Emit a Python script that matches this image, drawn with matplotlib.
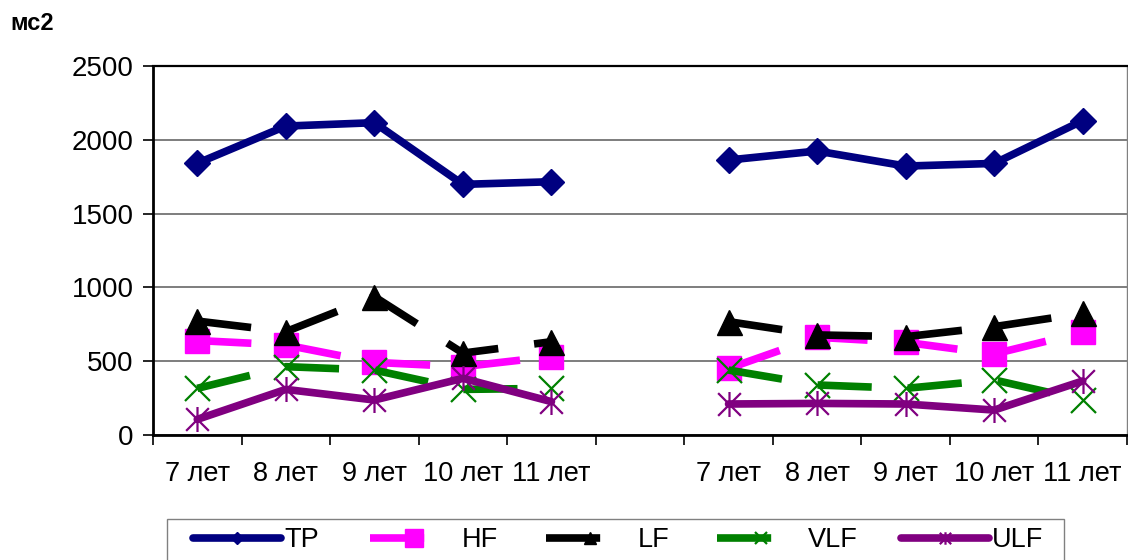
import numpy as np
import matplotlib
matplotlib.use("Agg")
import matplotlib.pyplot as plt
from matplotlib.path import Path
from matplotlib.lines import Line2D
from matplotlib.patches import Rectangle

plt.rcParams['font.family'] = ['Liberation Sans', 'DejaVu Sans']
plt.rcParams['lines.scale_dashes'] = False

# Age groups (two cohorts, separated by an empty slot)
categories = ["7 лет", "8 лет", "9 лет", "10 лет", "11 лет", "",
              "7 лет", "8 лет", "9 лет", "10 лет", "11 лет"]

nan = np.nan
tp  = [1841, 2093, 2116, 1698, 1716, nan, 1863, 1924, 1822, 1840, 2130]
hf  = [640, 610, 492, 463, 531, nan, 451, 662, 628, 549, 696]
lf  = [772, 700, 937, 555, 632, nan, 768, 678, 666, 734, 824]
vlf = [316, 463, 440, 309, 316, nan, 440, 339, 316, 373, 237]
ulf = [106, 309, 237, 384, 226, nan, 210, 214, 210, 169, 366]

series_names = ["TP", "HF", "LF", "VLF", "ULF"]
y_ticks = [0, 500, 1000, 1500, 2000, 2500]

# Asterisk marker: an X crossed by a vertical bar
star_path = Path(
    [(-0.5, -0.5), (0.5, 0.5), (-0.5, 0.5), (0.5, -0.5), (0, -0.55), (0, 0.55)],
    [Path.MOVETO, Path.LINETO, Path.MOVETO, Path.LINETO, Path.MOVETO, Path.LINETO],
)

long_dash = (0, (39, 26))
lw = 5.5

styles = {
    "TP":  dict(color="#000080", ls="-", marker="D", ms=13, mew=1, legend_ms=6.5),
    "HF":  dict(color="#FF00FF", ls=long_dash, marker="s", ms=17.5, mew=1, legend_ms=12.5),
    "LF":  dict(color="#000000", ls=long_dash, marker="^", ms=18, mew=1, legend_ms=9),
    "VLF": dict(color="#008000", ls=long_dash, marker="x", ms=18, mew=1.6, legend_ms=9),
    "ULF": dict(color="#800080", ls="-", marker=star_path, ms=18, mew=1.6, legend_ms=9),
}
values = {"TP": tp, "HF": hf, "LF": lf, "VLF": vlf, "ULF": ulf}

W, H = 1128, 560
fig = plt.figure(figsize=(W / 100, H / 100), dpi=100)
ax = fig.add_axes([153 / W, (H - 435) / H, 974 / W, 369 / H])

x = np.arange(len(categories))
handles = []
for name in series_names:
    st = styles[name]
    ax.plot(x, values[name], color=st["color"], linestyle=st["ls"], linewidth=lw,
            marker=st["marker"], markersize=st["ms"], markeredgewidth=st["mew"],
            markerfacecolor=st["color"], markeredgecolor=st["color"],
            solid_capstyle="round", solid_joinstyle="round",
            dash_capstyle="butt", dash_joinstyle="round", zorder=3)
    handles.append(Line2D([], [], color=st["color"], linestyle=st["ls"], linewidth=lw,
                          marker=st["marker"], markersize=st["legend_ms"],
                          markeredgewidth=st["mew"], markerfacecolor=st["color"],
                          markeredgecolor=st["color"], solid_capstyle="round",
                          dash_capstyle="butt"))

ax.set_xlim(-0.5, len(categories) - 0.5)
ax.set_ylim(0, 2500)
ax.set_yticks(y_ticks)
ax.set_yticklabels([str(v) for v in y_ticks])
ax.set_xticks(x)
ax.set_xticklabels(categories)
ax.set_xticks(np.arange(-0.5, len(categories)), minor=True)

ax.tick_params(axis="x", which="major", length=0, pad=19, labelsize=19.5)
ax.tick_params(axis="x", which="minor", length=7, width=1.2, direction="out")
ax.tick_params(axis="y", which="major", length=7, width=1.2, direction="out",
               pad=7, labelsize=20)

ax.yaxis.grid(True, color="#5a5a5a", linewidth=1.1, zorder=0)
ax.set_axisbelow(True)
for side in ("left", "bottom"):
    ax.spines[side].set_linewidth(2)
    ax.spines[side].set_color("black")
ax.spines["top"].set_linewidth(1.6)
ax.spines["top"].set_color("black")
ax.spines["right"].set_linewidth(1)
ax.spines["right"].set_color("#808080")

fig.text(10 / W, 1 - 24 / H, "мс2", fontsize=17, fontweight="bold",
         ha="left", va="center")

# Legend: one entry per slot, inside a shared frame running off the bottom edge
legend_x = [193, 370, 546, 717, 901]
legend_y = 540
for handle, name, lx in zip(handles, series_names, legend_x):
    leg = fig.legend([handle], [name], loc="center left",
                     bbox_to_anchor=(lx / W, 1 - legend_y / H),
                     fontsize=19.5, handlelength=3.25, handletextpad=0.12,
                     borderpad=0, borderaxespad=0, frameon=False)
fig.patches.append(Rectangle((167 / W, -0.1), (1064 - 167) / W, 0.1 + (H - 519) / H,
                             transform=fig.transFigure, fill=False,
                             edgecolor="#808080", linewidth=1))

fig.savefig("out.png", dpi=100, facecolor="white")
